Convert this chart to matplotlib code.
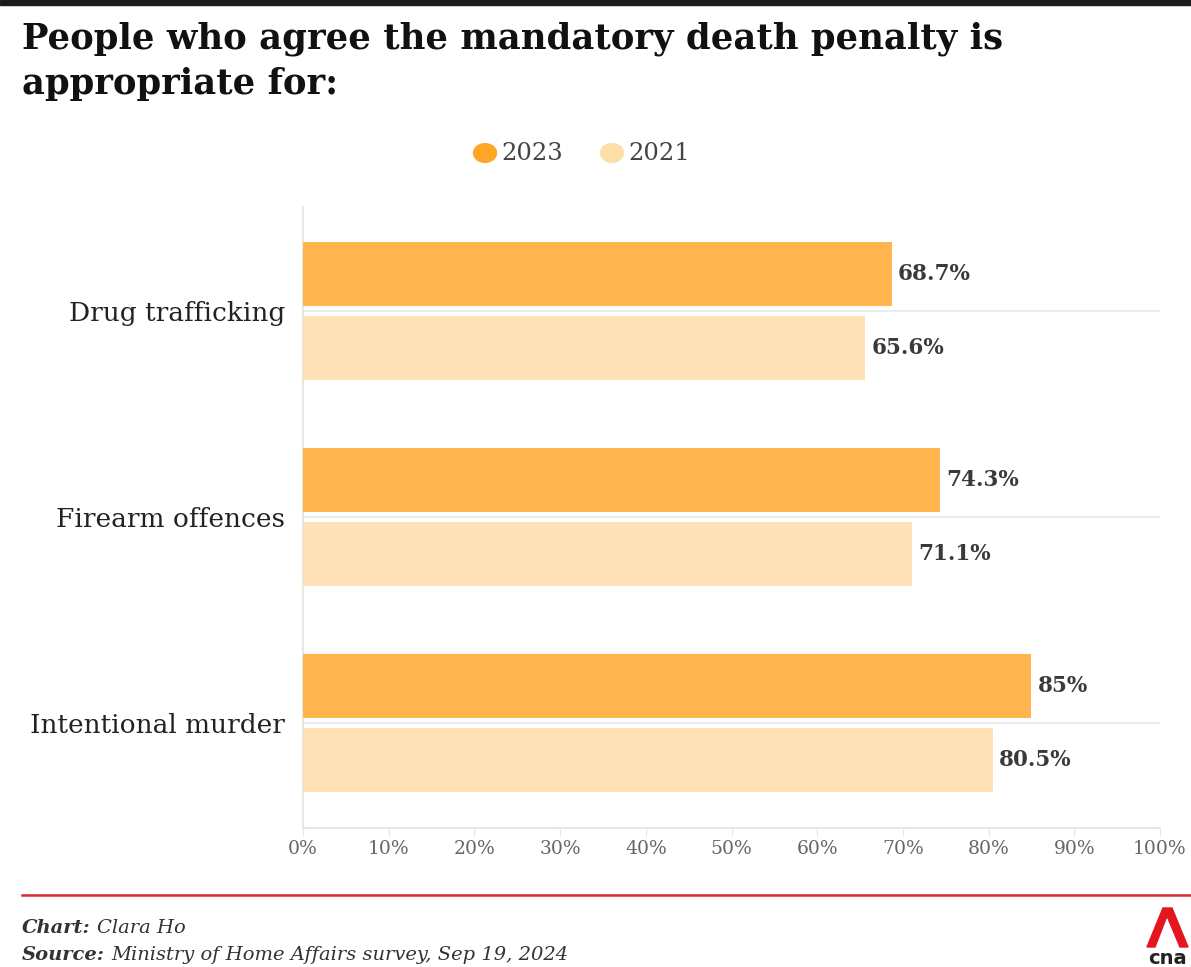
import matplotlib
matplotlib.use("Agg")
import matplotlib.pyplot as plt
from matplotlib.patches import Circle, Polygon
import numpy as np

categories = ["Drug trafficking", "Firearm offences", "Intentional murder"]
series_names = ["2023", "2021"]
values_2023 = [68.7, 74.3, 85.0]
values_2021 = [65.6, 71.1, 80.5]
labels_2023 = ["68.7%", "74.3%", "85%"]
labels_2021 = ["65.6%", "71.1%", "80.5%"]
xticks = [0, 10, 20, 30, 40, 50, 60, 70, 80, 90, 100]
xtick_labels = [f"{t}%" for t in xticks]

title = "People who agree the mandatory death penalty is\nappropriate for:"

W, H = 1191, 967
fig = plt.figure(figsize=(W / 100, H / 100), dpi=100)
fig.patch.set_facecolor("white")
SERIF = ["DejaVu Serif"]

def fx(px):
    return px / W

def fy(py):
    return 1 - py / H

# top dark band
fig.patches.append(Polygon([[0, 1], [1, 1], [1, fy(5)], [0, fy(5)]], closed=True,
                           transform=fig.transFigure, color="#1c1c1c"))

fig.text(fx(22), fy(21), title, ha="left", va="top", fontsize=25.5, family=SERIF,
         fontweight="bold", color="#111111", linespacing=1.42)

c2023 = "#FFB54F"
c2021 = "#FFE2B8"
leg2023 = "#FFA626"
leg2021 = "#FFDFA8"

# legend
for cx, col, name in [(485, leg2023, "2023"), (612, leg2021, "2021")]:
    fig.patches.append(Circle((fx(cx), fy(153)), radius=fx(11.5), transform=fig.transFigure,
                              color=col))
    fig.text(fx(cx + 16), fy(154), name, ha="left", va="center", fontsize=17.5,
             family=SERIF, color="#444444")

ax = fig.add_axes([fx(303), fy(828), fx(1160 - 303), (828 - 207) / H])
y = np.arange(len(categories))
bh = 0.31
off = 0.18
ax.barh(y - off, values_2023, height=bh, color=c2023, zorder=3)
ax.barh(y + off, values_2021, height=bh, color=c2021, zorder=3)

for yi, v, lab in zip(y - off, values_2023, labels_2023):
    ax.text(v + 0.7, yi, lab, ha="left", va="center", fontsize=15.5, fontweight="bold",
            family=SERIF, color="#3a3a3a", zorder=4)
for yi, v, lab in zip(y + off, values_2021, labels_2021):
    ax.text(v + 0.7, yi, lab, ha="left", va="center", fontsize=15.5, fontweight="bold",
            family=SERIF, color="#3a3a3a", zorder=4)

ax.set_xlim(0, 100)
ax.set_ylim(2.51, -0.505)
ax.set_yticks(y)
ax.set_yticklabels(categories, fontsize=19, family=SERIF, color="#222222")
ax.tick_params(axis="y", length=0, pad=13)
ax.set_xticks(xticks)
ax.set_xticklabels(xtick_labels, fontsize=13.5, family=SERIF, color="#666666")
ax.tick_params(axis="x", length=6, color="#e3e3e3", pad=3)
ax.grid(axis="y", color="#e8e8e8", linewidth=1.2, zorder=1)
for s in ["top", "right"]:
    ax.spines[s].set_visible(False)
ax.spines["left"].set_color("#e3e3e3")
ax.spines["bottom"].set_color("#e3e3e3")
ax.spines["left"].set_linewidth(1.2)
ax.spines["bottom"].set_linewidth(1.2)

# red rule
fig.lines.append(plt.Line2D([fx(22), 1], [fy(895), fy(895)], transform=fig.transFigure,
                            color="#D42A2F", linewidth=1.8))

# footer
renderer = fig.canvas.get_renderer()
def footer(ypx, bold_part, rest):
    t = fig.text(fx(22), fy(ypx), bold_part, ha="left", va="center", fontsize=14,
                 family=SERIF, style="italic", fontweight="bold", color="#333333")
    bb = t.get_window_extent(renderer=renderer)
    fig.text(bb.x1 / W + fx(6), fy(ypx), rest, ha="left", va="center", fontsize=14,
             family=SERIF, style="italic", color="#333333")

footer(928, "Chart:", "Clara Ho")
footer(955, "Source:", "Ministry of Home Affairs survey, Sep 19, 2024")

# cna logo approximation
tri = Polygon([[fx(1147), fy(947)], [fx(1163), fy(908)], [fx(1172), fy(908)], [fx(1188), fy(947)],
               [fx(1180), fy(947)], [fx(1167), fy(916)], [fx(1155), fy(947)]], closed=True,
              transform=fig.transFigure, color="#E3151E")
fig.patches.append(tri)
fig.text(fx(1167), fy(958), "cna", ha="center", va="center", fontsize=14, fontweight="bold",
         family=["DejaVu Sans"], color="#222222")

fig.savefig("out.png", dpi=100)
